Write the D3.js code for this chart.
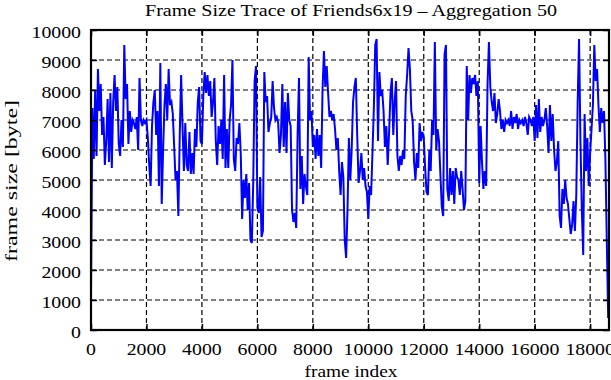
<!DOCTYPE html>
<html>
<head>
	<title>Frame Size Trace</title>
	<meta charset="utf-8"/>
	<script type="text/javascript" src="https://d3js.org/d3.v7.min.js"></script>
	<style>
		body { margin: 0; background: #fff; }
		text { font-family: "Liberation Serif", "Times New Roman", serif; fill: #000; }
	</style>
</head>
<body>
	<div id="chart"></div>

	<script>
		// trace: one value per 50 frames (aggregation 50)
		var aggregation = 50;
		var frameSizes = [
			1200, 7400, 5700, 8000, 5800, 8700, 7300, 8200, 6500, 7100, 5500, 6300, 7700, 5600, 7900, 5400, 7600, 8500, 7300, 8100,
			6200, 5800, 7000, 6100, 9500, 7700, 8200, 6200, 7300, 6600, 7000, 6900, 6700, 7100, 6000, 8400, 7000, 6800, 7000, 6900,
			7000, 6400, 5500, 4800, 6800, 7600, 8000, 6500, 7300, 4800, 8900, 4200, 6000, 7500, 8200, 7000, 8700, 7500, 7600, 7200,
			6100, 5000, 5300, 3800, 6500, 8500, 6800, 5300, 6900, 5500, 5300, 6600, 5200, 5900, 5200, 6700, 6100, 7600, 8100, 6300,
			6200, 7800, 8600, 7900, 8500, 7800, 8300, 7100, 7600, 8400, 6300, 5500, 6800, 6200, 7000, 5700, 8500, 5400, 6700, 5400,
			7000, 7500, 9000, 5700, 5300, 6400, 6200, 6900, 5900, 3700, 5000, 4400, 5200, 4000, 4900, 3000, 2900, 4900, 8300, 8800,
			4100, 3900, 5100, 3100, 3300, 8600, 7600, 7800, 6600, 6900, 7100, 8300, 7400, 7000, 7100, 6900, 5900, 6500, 8200, 6100,
			7600, 5900, 7900, 7000, 6800, 4000, 3600, 3900, 3400, 6500, 8400, 4700, 5800, 4200, 5200, 4800, 4500, 9100, 7000, 7300,
			6100, 6500, 5700, 6700, 5800, 6500, 5400, 8000, 9300, 8100, 8800, 7900, 7100, 7300, 7000, 7200, 6700, 6000, 6400, 5300,
			4500, 5600, 5100, 3000, 2400, 4000, 6400, 5000, 6000, 7600, 8100, 8400, 6500, 4900, 5300, 5900, 5000, 5400, 4800, 4600,
			3700, 4800, 4500, 5900, 7400, 9500, 9700, 6300, 8600, 7800, 8000, 7300, 6100, 6800, 5500, 6600, 7900, 8400, 6500, 7600,
			8300, 5800, 5300, 5800, 5500, 6000, 5700, 7800, 8500, 9400, 8700, 7300, 7000, 5600, 5000, 5900, 5400, 6900, 6300, 6600,
			6400, 5400, 4600, 4500, 6000, 5300, 7000, 6500, 9600, 6000, 6700, 6300, 5200, 4100, 3800, 9200, 9500, 4700, 4300, 5400,
			4500, 5300, 4200, 5400, 5100, 5000, 4500, 5300, 4700, 4000, 4300, 8800, 7000, 8500, 7900, 8400, 8200, 8500, 7800, 8300,
			4900, 6800, 5600, 4700, 5300, 4800, 8200, 9600, 8100, 7600, 7300, 7900, 6900, 7200, 7700, 7300, 6700, 7000, 6600, 7000,
			6900, 7000, 6800, 7300, 6700, 7100, 6900, 7200, 6700, 7000, 6900, 7000, 6800, 7100, 6900, 6500, 7100, 7000, 6800, 7100,
			6300, 7500, 6400, 7700, 6600, 7100, 6800, 7000, 7400, 6800, 5900, 7500, 6300, 7200, 6000, 5300, 5600, 6300, 3800, 3400,
			4700, 4200, 5000, 4400, 4200, 3700, 3200, 3500, 4300, 3300, 4500, 7600, 9700, 6300, 4000, 2500, 7200, 5300, 6400, 4800,
			5900, 6700, 7500, 9500, 8300, 8700, 7500, 6600, 7400, 6900, 7300, 5700, 3000, 400
		];
		var xTicks = [0, 2000, 4000, 6000, 8000, 10000, 12000, 14000, 16000, 18000];
		var yTicks = [0, 1000, 2000, 3000, 4000, 5000, 6000, 7000, 8000, 9000, 10000];

		var width = 611, height = 380;
		var plotL = 91, plotR = 609, plotT = 30, plotB = 330;
		var charW = 9.9; // labels are drawn a bit wide

		var svg = d3.select("#chart").append("svg")
			.attr("width", width)
			.attr("height", height);

		var x = d3.scaleLinear().domain([0, 18680]).range([plotL, plotR]);
		var y = d3.scaleLinear().domain([0, 10000]).range([plotB, plotT]);

		// dashed grid
		svg.selectAll(".gx").data(xTicks.filter(function(d) { return d > 0; }))
			.enter().append("line")
			.attr("x1", function(d) { return x(d); })
			.attr("x2", function(d) { return x(d); })
			.attr("y1", plotT).attr("y2", plotB)
			.attr("stroke", "#000").attr("stroke-width", 1.2)
			.attr("stroke-dasharray", "5,3");

		svg.selectAll(".gy").data(yTicks.filter(function(d) { return d > 0 && d < 10000; }))
			.enter().append("line")
			.attr("y1", function(d) { return y(d); })
			.attr("y2", function(d) { return y(d); })
			.attr("x1", plotL).attr("x2", plotR)
			.attr("stroke", "#000").attr("stroke-width", 1.2)
			.attr("stroke-dasharray", "5,3");

		// the trace
		svg.append("clipPath").attr("id", "clip")
			.append("rect").attr("x", plotL).attr("y", plotT)
			.attr("width", plotR - plotL).attr("height", plotB - plotT);

		var line = d3.line()
			.x(function(d, i) { return x(i * aggregation); })
			.y(function(d) { return y(d); });

		svg.append("path")
			.datum(frameSizes)
			.attr("clip-path", "url(#clip)")
			.attr("d", line)
			.attr("fill", "none")
			.attr("stroke", "#0000ff")
			.attr("stroke-width", 2)
			.attr("stroke-linejoin", "miter");

		// axes, ticks pointing inwards on all four sides
		var tickLen = 6;
		function cleanAxis(g) {
			g.select(".domain").remove();
			g.selectAll(".tick line").attr("stroke", "#000").attr("stroke-width", 1.5);
		}
		svg.append("g").attr("transform", "translate(0," + plotB + ")")
			.call(d3.axisBottom(x).tickValues(xTicks).tickSize(-tickLen).tickFormat(""))
			.call(cleanAxis);
		svg.append("g").attr("transform", "translate(0," + plotT + ")")
			.call(d3.axisTop(x).tickValues(xTicks).tickSize(-tickLen).tickFormat(""))
			.call(cleanAxis);
		svg.append("g").attr("transform", "translate(" + plotL + ",0)")
			.call(d3.axisLeft(y).tickValues(yTicks).tickSize(-tickLen).tickFormat(""))
			.call(cleanAxis);
		svg.append("g").attr("transform", "translate(" + plotR + ",0)")
			.call(d3.axisRight(y).tickValues(yTicks).tickSize(-tickLen).tickFormat(""))
			.call(cleanAxis);

		svg.append("rect")
			.attr("x", plotL).attr("y", plotT)
			.attr("width", plotR - plotL).attr("height", plotB - plotT)
			.attr("fill", "none").attr("stroke", "#000").attr("stroke-width", 2.2);

		// tick labels
		svg.selectAll(".yl").data(yTicks).enter().append("text")
			.attr("x", 81)
			.attr("y", function(d) { return y(d) + 7.5; })
			.attr("text-anchor", "end")
			.attr("font-size", 17)
			.attr("textLength", function(d) { return String(d).length * charW; })
			.attr("lengthAdjust", "spacingAndGlyphs")
			.text(function(d) { return d; });

		svg.selectAll(".xl").data(xTicks).enter().append("text")
			.attr("x", function(d) { return x(d); })
			.attr("y", 355)
			.attr("text-anchor", "middle")
			.attr("font-size", 17)
			.attr("textLength", function(d) { return String(d).length * charW; })
			.attr("lengthAdjust", "spacingAndGlyphs")
			.text(function(d) { return d; });

		// titles
		svg.append("text")
			.attr("x", 351).attr("y", 16)
			.attr("text-anchor", "middle")
			.attr("font-size", 17)
			.attr("textLength", 412)
			.attr("lengthAdjust", "spacingAndGlyphs")
			.text("Frame Size Trace of Friends6x19 \u2013 Aggregation 50");

		svg.append("text")
			.attr("x", 351).attr("y", 377)
			.attr("text-anchor", "middle")
			.attr("font-size", 17)
			.attr("textLength", 93)
			.attr("lengthAdjust", "spacingAndGlyphs")
			.text("frame index");

		svg.append("text")
			.attr("transform", "translate(17,181) rotate(-90)")
			.attr("text-anchor", "middle")
			.attr("font-size", 17)
			.attr("textLength", 162)
			.attr("lengthAdjust", "spacingAndGlyphs")
			.text("frame size [byte]");
	</script>
</body>
</html>
